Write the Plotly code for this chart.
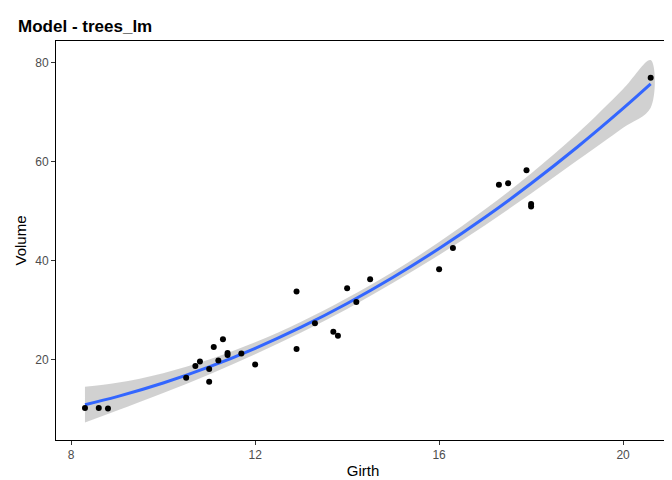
import plotly.graph_objects as go

girth = [8.3, 8.6, 8.8, 10.5, 10.7, 10.8, 11.0, 11.0, 11.1, 11.2, 11.3, 11.4, 11.4, 11.7, 12.0, 12.9, 12.9, 13.3, 13.7, 13.8, 14.0, 14.2, 14.5, 16.0, 16.3, 17.3, 17.5, 17.9, 18.0, 18.0, 20.6]
volume = [10.3, 10.3, 10.2, 16.4, 18.8, 19.7, 15.6, 18.2, 22.6, 19.9, 24.2, 21.0, 21.4, 21.3, 19.1, 22.2, 33.8, 27.4, 25.7, 24.9, 34.5, 31.7, 36.3, 38.3, 42.6, 55.4, 55.7, 58.3, 51.5, 51.0, 77.0]

fit_x = [8.3, 9, 10, 11, 12, 13, 14, 15, 16, 17, 18, 19, 20, 20.6]
fit_y = [10.97, 12.59, 15.34, 18.59, 22.36, 26.63, 31.41, 36.70, 42.50, 48.81, 55.63, 62.95, 70.79, 75.74]
fit_se = [3.6, 2.8, 2.0, 1.5, 1.2, 1.1, 1.1, 1.1, 1.3, 1.6, 2.0, 2.7, 3.9, 4.8]

upper = [y + s for y, s in zip(fit_y, fit_se)]
lower = [y - s for y, s in zip(fit_y, fit_se)]

fig = go.Figure()
fig.add_trace(go.Scatter(x=fit_x + fit_x[::-1], y=upper + lower[::-1], fill="toself",
                         line=dict(width=0, shape="spline"),
                         fillcolor="rgba(153,153,153,0.45)", hoverinfo="skip", showlegend=False))
fig.add_trace(go.Scatter(x=fit_x, y=fit_y, mode="lines", line=dict(color="#3366FF", width=3, shape="spline"), showlegend=False))
fig.add_trace(go.Scatter(x=girth, y=volume, mode="markers", marker=dict(color="black", size=6), showlegend=False))

fig.update_layout(
    width=672, height=480, plot_bgcolor="white", paper_bgcolor="white",
    margin=dict(l=48, r=10, t=33, b=48),
    font=dict(family="Liberation Sans, Arial", size=13, color="#4d4d4d"),
    title=dict(text="<b>Model - trees_lm</b>", x=0.015, xref="container", y=0.975, yanchor="top",
               font=dict(size=17, color="black")),
)
fig.update_xaxes(range=[7.67, 21.02], tickvals=[8, 12, 16, 20], showgrid=False, zeroline=False,
                 showline=True, linecolor="black", mirror=True, ticks="outside", ticklen=4, tickcolor="#333",
                 title=dict(text="Girth", font=dict(size=15, color="black"), standoff=4),
                 tickfont=dict(color="#4d4d4d", size=12), automargin=False)
fig.update_yaxes(range=[3.84, 84.4], tickvals=[20, 40, 60, 80], showgrid=False, zeroline=False,
                 showline=True, linecolor="black", mirror=True, ticks="outside", ticklen=4, tickcolor="#333",
                 title=dict(text="Volume", font=dict(size=15, color="black"), standoff=4),
                 tickfont=dict(color="#4d4d4d", size=12), automargin=False)
fig.write_html("out.html")
